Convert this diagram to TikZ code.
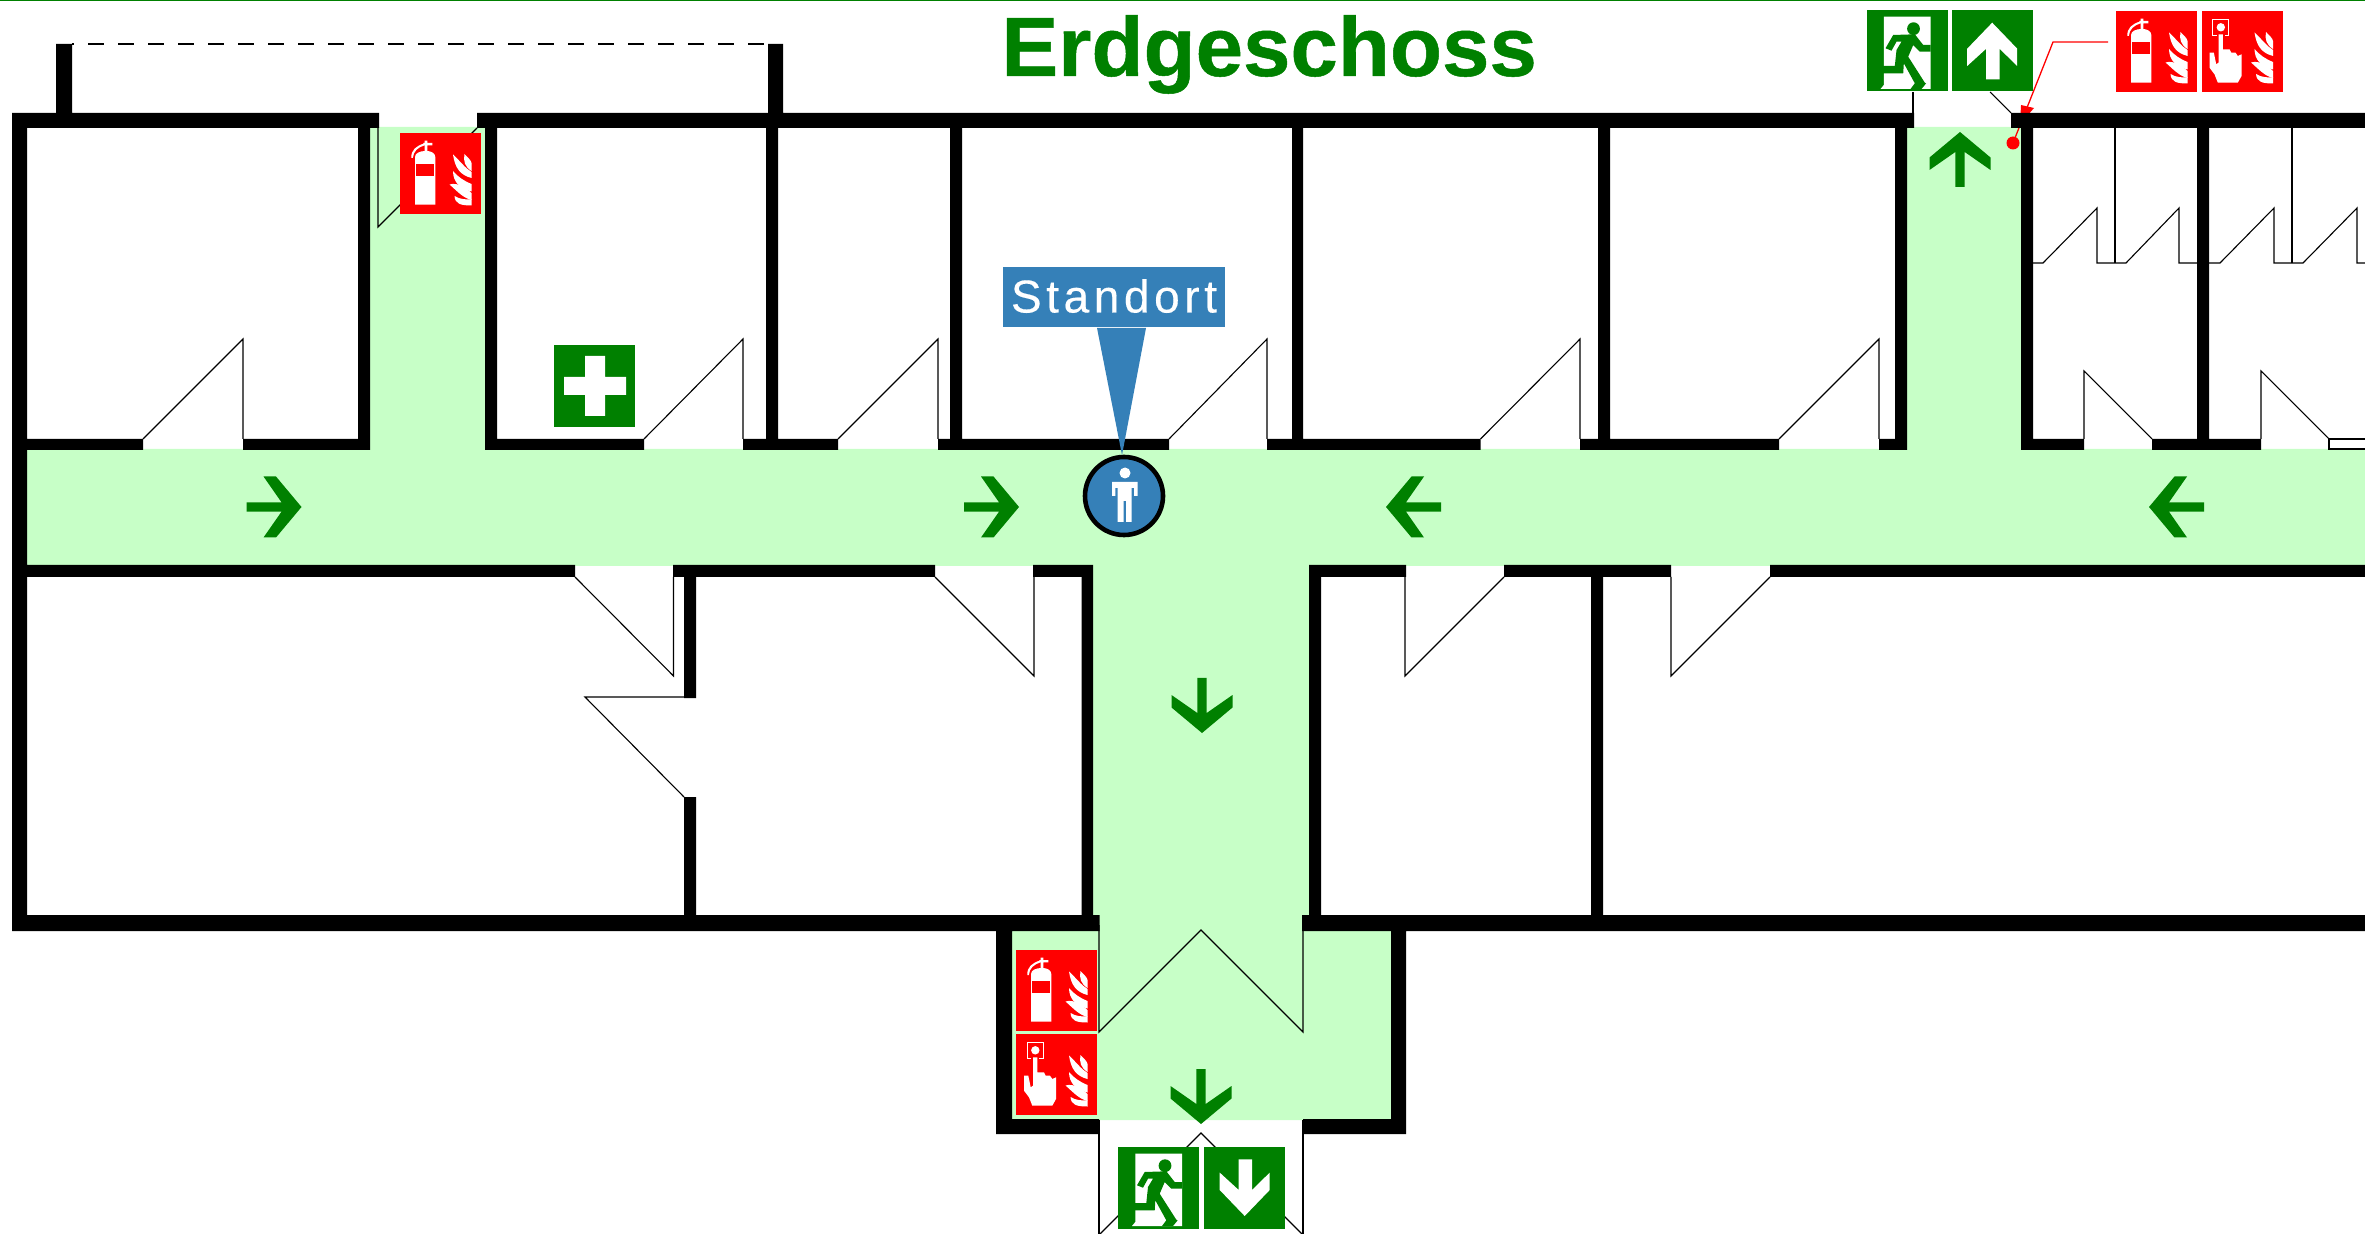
\documentclass[tikz,border=0pt]{standalone}
\usepackage{fontspec}
\setmainfont{Liberation Sans}
\newfontfamily\stdfont[LetterSpace=10,FakeBold=0.35]{Liberation Sans}
\newfontfamily\titlefont[FakeBold=0.6]{Liberation Sans Bold}
\definecolor{sgreen}{HTML}{008000}
\definecolor{sred}{HTML}{FF0000}
\definecolor{lgreen}{HTML}{C7FFC7}
\definecolor{sblue}{HTML}{3580B8}
\newcommand{\flameset}{%
  \fill[white] (53,21.5) .. controls (55,35) and (60,42) .. (71.5,45) -- (71.5,39) .. controls (65,35) and (61,29) .. cycle;
  \fill[white] (64.5,21) .. controls (68,25) and (71,27) .. (71.5,30) -- (71.5,38) .. controls (65,34) and (63,28) .. cycle;
  \fill[white] (53,38) .. controls (53,49) and (60,56) .. (71.5,58.5) -- (71.5,51) .. controls (64,48) and (58,44) .. cycle;
  \fill[white] (49.5,51.5) .. controls (58,49) and (66,55) .. (71.5,60) -- (71.5,67) .. controls (63,65) and (57,58) .. cycle;
  \fill[white] (54.5,63) .. controls (60,66.5) and (66,66.5) .. (71.5,66.5) -- (71.5,72.5) .. controls (61,72.5) and (55,71) .. cycle;
}
\tikzset{
  wall/.style={fill=black},
  thin line/.style={draw=black,line width=.55pt},
  exitsign/.pic={
    \fill[sgreen] (0,0) rectangle (81,81.5);
    \fill[white] (17.3,6.7) -- (64,6.7) -- (64,79) -- (14,79) -- (17.3,75) -- cycle;
    \fill[sgreen] (47,18.7) circle[radius=6.4];
    \fill[sgreen] (26.7,25) -- (48.3,24.3) -- (56.7,35) -- (64,35) -- (64,41.7) -- (53.3,41.7) -- (46.7,35) -- (41.7,46.7) -- (58.3,72.7) -- (59.5,73.5) -- (55,79) -- (44,79) -- (48.3,73.3) -- (37.3,53.3) -- (36.7,63.3) -- (8.3,63.3) -- (8.3,56) -- (28.3,56) -- (30,40) -- (35,31.7) -- (30,31.7) -- (25,40.7) -- (19,38.3) -- cycle;
  },
  upsign/.pic={
    \fill[sgreen] (0,0) rectangle (81,81.5);
    \fill[white] (40.7,12.7) -- (65.7,38.7) -- (65.7,56) -- (48,38.7) -- (48,69.3) -- (34.7,69.3) -- (34.7,38.7) -- (15.7,56) -- (15.7,38.7) -- cycle;
  },
  downsign/.pic={
    \fill[sgreen] (0,0) rectangle (81,81.5);
    \fill[white] (40.7,69) -- (65.7,43) -- (65.7,25.6) -- (48,43) -- (48,12.3) -- (34.7,12.3) -- (34.7,43) -- (15.7,25.6) -- (15.7,43) -- cycle;
  },
  extsign/.pic={
    \fill[sred] (0,0) rectangle (81,81);
    \fill[white] (15,71.7) -- (15,24) .. controls (15,20) and (20,18.3) .. (24.7,18) -- (24.7,12.3) -- (23.3,12.3) -- (23.3,10) -- (24.7,10) -- (24.7,7.7) -- (27.3,7.7) -- (27.3,10) -- (32.3,10) -- (32.3,12.3) -- (27.3,12.3) -- (27.3,18) .. controls (31,18.3) and (35.3,20) .. (35.3,24) -- (35.3,71.7) -- cycle;
    \fill[sred] (16,31) rectangle (34.3,43.3);
    \fill[white] (11.3,25) .. controls (11,17) and (16,13) .. (24,10.5) -- (24,12.5) .. controls (18,14.5) and (13.5,18) .. (12.8,25) -- cycle;
    \flameset
  },
  alarmsign/.pic={
    \fill[sred] (0,0) rectangle (81,81);
    \draw[white,line width=.5pt] (15,24.3) -- (11.3,24.3) -- (11.3,8.3) -- (27,8.3) -- (27,24.3) -- (23,24.3);
    \fill[white] (19.3,16.3) circle[radius=4.2];
    \fill[white] (17,23.3) -- (21.3,23.3) -- (21.3,38.3) -- (28,38.3) -- (29.7,41.7) -- (34,41.7) -- (36.3,45) -- (40,43.3) -- (40,65) -- (36.3,71.7) -- (16.3,71.7) -- (13,63.3) -- (8,56.7) -- (8,41.7) -- (12.3,41.7) -- (14.7,53.3) -- (17,51.7) -- cycle;
    \flameset
  },
  arrowshape/.pic={
    \fill[sgreen] (0,0) -- (-30.5,-25.5) -- (-30.5,-38) -- (-4.7,-20) -- (-4.7,-55) -- (4.7,-55) -- (4.7,-20) -- (30.5,-38) -- (30.5,-25.5) -- cycle;
  }
}
\begin{document}
\begin{tikzpicture}[x=.5pt,y=-.5pt]
\useasboundingbox (0,0) rectangle (2365,1234);
\clip (0,0) rectangle (2365,1234);
% top rule
\fill[sgreen] (0,0) rectangle (2365,1.4);
% escape routes
\fill[lgreen] (27,449) -- (370,449) -- (370,127) -- (485,127) -- (485,449) -- (1907,449) -- (1907,127) -- (2021,127) -- (2021,449) -- (2365,449) -- (2365,566) -- (1309,566) -- (1309,931) -- (1391,931) -- (1391,1120) -- (1012,1120) -- (1012,931) -- (1093,931) -- (1093,566) -- (27,566) -- cycle;
% doors
\draw[thin line] (243,439) -- (243,339) -- (143,439);
\draw[thin line] (743,439) -- (743,339) -- (644,439);
\draw[thin line] (938,439) -- (938,339) -- (838,439);
\draw[thin line] (1267,439) -- (1267,339) -- (1169,439);
\draw[thin line] (1580,439) -- (1580,339) -- (1480.5,439);
\draw[thin line] (1879,439) -- (1879,339) -- (1779,439);
\draw[thin line] (378,127) -- (378,227) -- (477,128);
\draw[thin line] (2084,439) -- (2084,371) -- (2152,439);
\draw[thin line] (2261,439) -- (2261,371) -- (2329,439);
\draw[thin line,fill=white] (2329,439) rectangle (2366,449);
\draw[thin line] (2115,128) -- (2115,263);
\draw[thin line] (2292,128) -- (2292,263);
\draw[thin line] (2033,263) -- (2043,263) -- (2097,208) -- (2097,263) -- (2126,263) -- (2179,208) -- (2179,263) -- (2197,263);
\draw[thin line] (2209,263) -- (2220,263) -- (2274,208) -- (2274,263) -- (2303,263) -- (2357,208) -- (2357,263) -- (2366,263);
\draw[thin line] (673.5,577) -- (673.5,676) -- (575,577);
\draw[thin line] (1034,577) -- (1034,676) -- (935,577);
\draw[thin line] (1405,577) -- (1405,676) -- (1504,577);
\draw[thin line] (1671,577) -- (1671,676) -- (1770,577);
\draw[thin line] (684,697) -- (585,697) -- (684,797);
\draw[thin line] (1099,925) -- (1099,1032) -- (1201,930) -- (1303,1032) -- (1303,925);
\draw[thin line] (1099,1120) -- (1099,1235);
\draw[thin line] (1303,1120) -- (1303,1235);
\draw[thin line] (1099,1235) -- (1201,1133) -- (1303,1235);
\draw[thin line] (1913,92) -- (1913,113);
\draw[thin line] (1990,92) -- (2011,113);
\draw[thin line,dash pattern=on 8pt off 7pt,dash phase=7pt] (72,44) -- (768,44);
% red pointer, under the walls
\coordinate (bend) at (2053,42);
\coordinate (fixstart) at (2108,42);
\coordinate (point) at (2013,143);
\draw[sred,line width=.65pt] (fixstart) -- (bend) -- (point);
\fill[sred] (2021,105) -- (2034,108) -- (2020,124) -- cycle;
% walls
\fill[wall]
  (12,113) rectangle (379,128)
  (477,113) rectangle (1914,128)
  (2011,113) rectangle (2365,128)
  (12,113) rectangle (27,931)
  (56,44) rectangle (72,113)
  (768,44) rectangle (783,113)
  (358,128) rectangle (370,450)
  (485,128) rectangle (497,450)
  (766,128) rectangle (778,450)
  (950,128) rectangle (962,450)
  (1292,128) rectangle (1303,450)
  (1598,128) rectangle (1610,450)
  (1895,128) rectangle (1907,450)
  (2021,128) rectangle (2033,450)
  (2197,128) rectangle (2209,450)
  (27,439) rectangle (143,450)
  (243,439) rectangle (370,450)
  (485,439) rectangle (644,450)
  (743,439) rectangle (838,450)
  (938,439) rectangle (1169,450)
  (1267,439) rectangle (1480.5,450)
  (1580,439) rectangle (1779,450)
  (1879,439) rectangle (1907,450)
  (2021,439) rectangle (2084,450)
  (2152,439) rectangle (2261,450)
  (12,565) rectangle (575,577)
  (673,565) rectangle (935,577)
  (1033,565) rectangle (1093,577)
  (1309,565) rectangle (1406,577)
  (1504,565) rectangle (1671,577)
  (1770,565) rectangle (2365,577)
  (684,577) rectangle (696,698)
  (684,797) rectangle (696,915)
  (1081.5,577) rectangle (1093,915)
  (1309,577) rectangle (1321,915)
  (1591,577) rectangle (1603,915)
  (12,915) rectangle (1099.5,931)
  (1302,915) rectangle (2365,931)
  (996,931) rectangle (1012,1134)
  (1391,931) rectangle (1406,1134)
  (996,1119) rectangle (1099,1134)
  (1303,1119) rectangle (1406,1134);
% pointer dot
\fill[sred] (point) circle[radius=6.5];
% direction arrows
\pic[rotate=90] at (301.5,507) {arrowshape};
\pic[rotate=90] at (1019,507) {arrowshape};
\pic[rotate=-90] at (1386,507) {arrowshape};
\pic[rotate=-90] at (2149,507) {arrowshape};
\pic at (1202,733) {arrowshape};
\pic at (1201,1124) {arrowshape};
\pic[rotate=180] at (1960,132) {arrowshape};
% safety signs
\pic at (1866.5,10) {exitsign};
\pic at (1951.5,10) {upsign};
\pic at (2116,11) {extsign};
\pic at (2201.5,11) {alarmsign};
\pic at (400,133) {extsign};
\pic at (1016,950) {extsign};
\pic at (1016,1034) {alarmsign};
\pic at (1118,1147) {exitsign};
\pic at (1204,1147) {downsign};
% first aid
\fill[sgreen] (554,345) rectangle (635,427);
\fill[white] (585,356) rectangle (605,416) (564,377) rectangle (626,395);
% location marker
\fill[sblue] (1003,267) rectangle (1225,327);
\fill[sblue] (1097,328) -- (1146,328) -- (1122,455) -- cycle;
\node[anchor=base,inner sep=0pt,text=white,font=\stdfont\fontsize{23}{23}\selectfont] (standort) at (1114,312.5) {Standort};
\draw[black,line width=2.3pt,fill=sblue] (1124,496) circle[radius=39];
\fill[white] (1125,473) circle[radius=5.5];
\fill[white] (1112,482) -- (1137.5,482) -- (1137.5,496) -- (1134,496) -- (1134,488) -- (1131.7,488) -- (1131.7,522) -- (1126,522) -- (1126,501) -- (1123.7,501) -- (1123.7,522) -- (1117.7,522) -- (1117.7,488) -- (1115.3,488) -- (1115.3,496) -- (1112,496) -- cycle;
% title
\node[anchor=base west,inner sep=0pt,text=sgreen,font=\titlefont\fontsize{42}{42}\selectfont] (title) at (1001,76) {\scalebox{1.015}[1]{Erdgeschoss}};
\end{tikzpicture}
\end{document}
